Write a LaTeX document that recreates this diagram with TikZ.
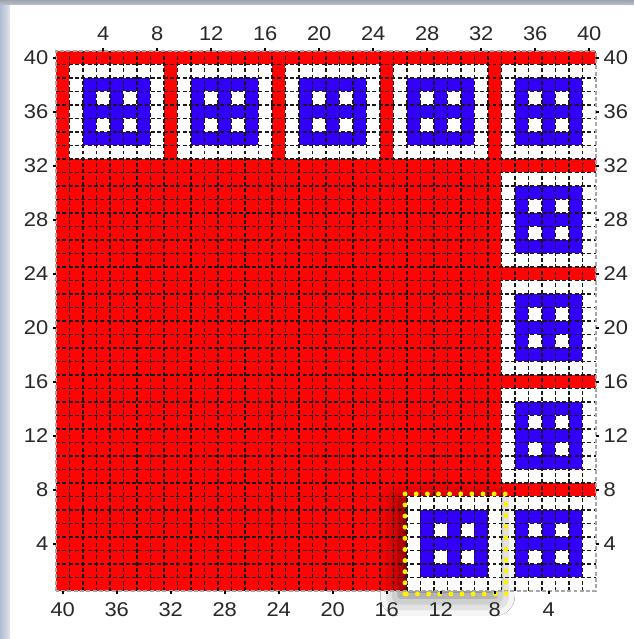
\documentclass[tikz,border=0pt]{standalone}
\usepackage{fontspec}
\setmainfont{Liberation Sans}[FakeStretch=1.1]
\usepackage{tikz}
\usetikzlibrary{shadows.blur}

\definecolor{padred}{RGB}{255,4,4}
\definecolor{padblue}{RGB}{50,0,250}
\definecolor{framegray}{RGB}{158,164,175}
\definecolor{frameblue}{RGB}{176,188,210}
\definecolor{labelgray}{RGB}{40,40,40}

% one 7x7 pad cell, lower left corner at (#2,#3)
\newcommand{\padblock}[3][]{%
  \fill[white,#1] (#2,#3) rectangle ++(7,7);
  \fill[padblue] (#2+1,#3+1) rectangle ++(5,5);
  \foreach \i/\j in {2/2,4/2,2/4,4/4}
    \fill[white] (#2+\i,#3+\j) rectangle ++(1,1);
}

\begin{document}
\begin{tikzpicture}[x=0.405cm, y=0.405cm,
    font=\fontsize{17}{20}\selectfont, text=labelgray,
    gridline/.style={black!90, line width=1.1pt, dash pattern=on 3.4pt off 2pt},
    axtick/.style={black, line width=1.6pt},
    axlabel/.style={inner sep=0pt}]
    \useasboundingbox (-4.148,-3.556) rectangle (42.815,43.778);
    % window frame
    \fill[white] (-4.148,-3.556) rectangle (42.815,43.778);
    \shade[left color=frameblue, right color=frameblue!40] (-4.148,-3.556) rectangle (-3.41,43.778);
    \shade[top color=framegray, bottom color=framegray!70] (-4.148,43.41) rectangle (42.815,43.778);
    % board
    \fill[padred] (0,0) rectangle (40,40);
    \foreach \x in {1,9,17,25,33} \padblock{\x}{32};
    \foreach \y in {24,16,8,0} \padblock{33}{\y};
    % the picked-up pad
    \padblock[blur shadow={shadow xshift=-0.2cm, shadow yshift=-0.15cm,
        shadow blur radius=0.6cm, shadow opacity=60}]{26}{0}
    % grid
    \foreach \i in {1,...,39} {
        \draw[gridline] (\i,0) -- (\i,40);
        \draw[gridline] (0,\i) -- (40,\i);
    }
    \draw[gray!70, line width=1.1pt, dash pattern=on 3.4pt off 2pt] (0,0) rectangle (40,40);
    % selection
    \draw[yellow, line width=4.2pt, line cap=round, dash pattern=on 0pt off 9.5pt]
        (25.85,-0.22) rectangle (33.33,7.19);
    % axes
    \foreach \k in {4,8,...,40} {
        \draw[axtick] (\k-0.5,40) -- ++(0,0.25);
        \draw[axtick] (40.5-\k,0) -- ++(0,-0.25);
        \draw[axtick] (0,\k-0.5) -- ++(-0.25,0);
        \draw[axtick] (40,\k-0.5) -- ++(0.25,0);
        \node[axlabel] (t\k) at (\k-0.5,41.3) {\k};
        \node[axlabel] (b\k) at (40.5-\k,-1.41) {\k};
        \node[axlabel, anchor=east] (l\k) at (-0.55,\k-0.5) {\k};
        \node[axlabel, anchor=west] (r\k) at (40.55,\k-0.5) {\k};
    }
\end{tikzpicture}
\end{document}
